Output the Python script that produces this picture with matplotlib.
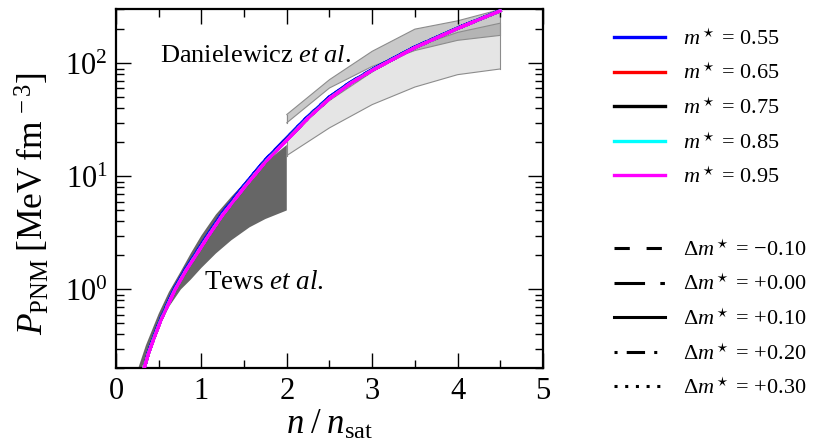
import matplotlib
matplotlib.use("Agg")
import matplotlib.pyplot as plt
from matplotlib.lines import Line2D

plt.rcParams['font.family'] = ['Liberation Serif', 'DejaVu Serif']
plt.rcParams['mathtext.fontset'] = 'custom'
plt.rcParams['mathtext.rm'] = 'Liberation Serif'
plt.rcParams['mathtext.it'] = 'Liberation Serif:italic'
plt.rcParams['mathtext.bf'] = 'Liberation Serif:bold'

# ---------------- data ----------------
n_curve = [0.33, 0.38, 0.45, 0.525, 0.615, 0.69, 0.82, 0.95, 1.07, 1.25, 1.5,
           1.75, 2.0, 2.25, 2.5, 2.75, 3.0, 3.5, 4.0, 4.5]
P_m055 = [0.2, 0.28, 0.395, 0.555, 0.78, 1.04, 1.54, 2.18, 3.02, 4.8, 8.35,
          14.1, 21.9, 34.2, 50.5, 68.5, 88.5, 140, 206, 294]
P_m065 = [0.2, 0.272, 0.382, 0.536, 0.752, 1.0, 1.48, 2.1, 2.9, 4.6, 8.0,
          13.5, 21.0, 33.0, 49.0, 67.0, 87.0, 138, 204, 292]
P_m075 = [0.2, 0.272, 0.382, 0.536, 0.752, 1.0, 1.48, 2.1, 2.9, 4.6, 8.0,
          13.5, 21.0, 33.0, 49.0, 67.0, 87.0, 138, 204, 292]
P_m085 = [0.2, 0.272, 0.382, 0.536, 0.752, 1.0, 1.48, 2.1, 2.9, 4.6, 8.0,
          13.5, 21.0, 33.0, 49.0, 67.0, 87.0, 138, 204, 292]
P_m095 = [0.2, 0.27, 0.378, 0.53, 0.745, 0.99, 1.47, 2.08, 2.88, 4.57, 7.95,
          13.4, 20.9, 32.8, 48.8, 66.8, 86.8, 137.8, 203.8, 291.8]

mstar_labels = ['0.55', '0.65', '0.75', '0.85', '0.95']
dm_labels = ['\u22120.10', '+0.00', '+0.10', '+0.20', '+0.30']

# Tews et al. band
n_tews = [0.25, 0.35, 0.5, 0.62, 0.76, 0.875, 1.0, 1.17, 1.35, 1.565, 1.75, 2.0]
tews_low = [0.16, 0.25, 0.46, 0.7, 1.0, 1.22, 1.55, 2.08, 2.72, 3.55, 4.2, 5.0]
tews_high = [0.19, 0.32, 0.61, 0.95, 1.45, 2.08, 3.0, 4.6, 6.6, 9.86, 13.3, 19.0]

# Danielewicz et al. bands
n_dan = [2.0, 2.5, 3.0, 3.5, 4.0, 4.5]
stiff_low = [29.8, 60.6, 94, 130, 160, 177]
stiff_high = [35.3, 71.8, 128, 201, 238, 300]
soft_low = [15.3, 26.9, 43.2, 61.8, 79.5, 89.3]
soft_high = [21.9, 47, 84, 140, 188, 227]

# ---------------- styles ----------------
colors = ['#0000ff', '#ff0000', '#000000', '#00ffff', '#ff00ff']
styles = [(0, (5, 5.5)), (0, (10, 5, 1.5, 5)), '-', (0, (1, 3, 6, 3, 1, 3)), (0, (1, 2.5))]

fig = plt.figure(figsize=(8.26, 4.45), dpi=100)
ax = fig.add_axes([0.1404, 0.172, 0.5170, 0.8067])

ax.fill_between(n_tews, tews_low, tews_high, facecolor='#666666', edgecolor='none', zorder=1)
ax.fill_between(n_dan, soft_low, soft_high, facecolor='black', alpha=0.10,
                edgecolor='none', zorder=1)
ax.fill_between(n_dan, stiff_low, stiff_high, facecolor='black', alpha=0.21,
                edgecolor='none', zorder=1)
for lo, hi in ((soft_low, soft_high), (stiff_low, stiff_high)):
    ax.plot(n_dan, lo, color='#8c8c8c', lw=0.8, zorder=1.5)
    ax.plot(n_dan, hi, color='#8c8c8c', lw=0.8, zorder=1.5)
    ax.plot([n_dan[0], n_dan[0]], [lo[0], hi[0]], color='#8c8c8c', lw=0.8, zorder=1.5)
    ax.plot([n_dan[-1], n_dan[-1]], [lo[-1], hi[-1]], color='#8c8c8c', lw=0.8, zorder=1.5)

curves = [P_m055, P_m065, P_m075, P_m085, P_m095]
for c, P in zip(colors, curves):
    for ls in styles:
        ax.plot(n_curve, P, color=c, ls=ls, lw=2.2, zorder=3)

ax.set_yscale('log')
ax.set_xlim(0, 5)
ax.set_ylim(0.2, 300)
ax.set_xticks([0, 1, 2, 3, 4, 5])
ax.set_xticks([0.5, 1.5, 2.5, 3.5, 4.5], minor=True)
ax.tick_params(which='both', direction='in', top=True, right=True, labelsize=22, width=1.0)
ax.tick_params(which='major', length=11)
ax.tick_params(which='minor', length=6)
ax.tick_params(axis='x', pad=6)
ax.tick_params(axis='y', pad=6)
for s in ax.spines.values():
    s.set_linewidth(1.6)

ax.set_xlabel(r'$n\;/\;n_{\mathrm{sat}}$', fontsize=25)
ax.xaxis.set_label_coords(0.5, -0.113)
ax.set_ylabel(r'$P_{\mathrm{PNM}}\;[\mathrm{MeV\;fm}^{\,-3}]$', fontsize=25.5)
ax.yaxis.set_label_coords(-0.15, 0.46)

ax.text(0.51, 117, r'Danielewicz $\mathit{et\ al.}$', fontsize=19, va='center', ha='left')
ax.text(1.03, 1.16, r'Tews $\mathit{et\ al.}$', fontsize=19.5, va='center', ha='left')

leg_kw = dict(loc='upper left', frameon=False, fontsize=16, handlelength=2.3,
              handletextpad=0.8, labelspacing=0.62, borderpad=0, borderaxespad=0)
h1 = [Line2D([], [], color=c, lw=2.4) for c in colors]
l1 = [r'$m^\star$ = %s' % m for m in mstar_labels]
leg1 = fig.legend(h1, l1, bbox_to_anchor=(614 / 826, 1 - 29 / 445), **leg_kw)
h2 = [Line2D([], [], color='black', lw=2.2, ls=ls) for ls in styles]
l2 = [r'$\Delta m^\star$ = %s' % d for d in dm_labels]
leg2 = fig.legend(h2, l2, bbox_to_anchor=(614 / 826, 1 - 240 / 445), **leg_kw)

fig.savefig('out.png', dpi=100)
